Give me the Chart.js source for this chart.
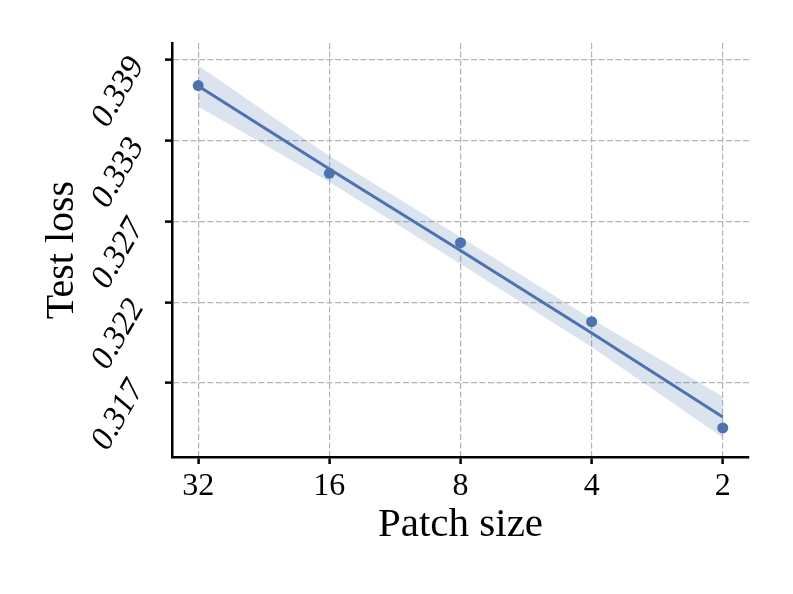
<!DOCTYPE html>
<html>
<head>
<meta charset="utf-8">
<script src="https://cdn.jsdelivr.net/npm/chart.js@4.4.1/dist/chart.umd.min.js"></script>
<style>
  html, body { margin: 0; padding: 0; background: #ffffff; }
  #wrap { width: 793px; height: 594px; }
</style>
</head>
<body>
<div id="wrap"><canvas id="c" width="793" height="594"></canvas></div>
<script>
// ---- data ----
const patchSizes   = [32, 16, 8, 4, 2];
const testLoss     = [0.33706, 0.33108, 0.32636, 0.32098, 0.31374];
const fitLine      = [0.33703, 0.33138, 0.32583, 0.32021, 0.31448];
const bandUpper    = [0.33843, 0.33227, 0.32675, 0.32116, 0.31588];
const bandLower    = [0.33563, 0.33049, 0.32491, 0.31926, 0.31308];
const yTickValues  = [0.3168, 0.3223, 0.3278, 0.3333, 0.3388];
const yTickLabels  = ['0.317', '0.322', '0.327', '0.333', '0.339'];
const xTickLabels  = ['32', '16', '8', '4', '2'];

const xPos = patchSizes.map(p => Math.log2(p));
const pts = arr => arr.map((v, i) => ({ x: xPos[i], y: v }));

const BLUE = '#4c72b0';
const SERIF = "'Liberation Serif', 'Times New Roman', serif";

new Chart(document.getElementById('c'), {
  type: 'scatter',
  data: {
    datasets: [
      { label: 'points', data: pts(testLoss), showLine: false,
        pointRadius: 5.5, pointHoverRadius: 5.5, pointBackgroundColor: BLUE,
        pointBorderWidth: 0, order: 0 },
      { label: 'fit', data: pts(fitLine), showLine: true, borderColor: BLUE,
        borderWidth: 3, pointRadius: 0, fill: false, order: 1 },
      { label: 'upper', data: pts(bandUpper), showLine: true, borderWidth: 0,
        borderColor: 'rgba(0,0,0,0)', pointRadius: 0,
        backgroundColor: 'rgba(76,114,176,0.2)', fill: '+1', order: 2 },
      { label: 'lower', data: pts(bandLower), showLine: true, borderWidth: 0,
        borderColor: 'rgba(0,0,0,0)', pointRadius: 0, fill: false, order: 3 }
    ]
  },
  options: {
    responsive: false,
    animation: false,
    events: [],
    layout: { padding: { left: 0, top: 43, right: 44, bottom: 0 } },
    plugins: { legend: { display: false }, tooltip: { enabled: false } },
    scales: {
      x: {
        type: 'linear', min: 0.8, max: 5.2, reverse: true,
        afterFit: s => { s.height = 137; s.paddingLeft = 0; s.paddingRight = 0; },
        afterBuildTicks: s => { s.ticks = xPos.map(v => ({ value: v })); },
        ticks: {
          callback: (v, i) => xTickLabels[i],
          font: { family: SERIF, size: 32 }, color: '#000',
          padding: 3, maxRotation: 0, minRotation: 0, autoSkip: false
        },
        grid: { color: '#b4b4b4', lineWidth: 1.2,
                drawTicks: true, tickLength: 7, tickColor: '#000', tickWidth: 2.5,
                tickBorderDash: [] },
        border: { display: true, color: '#000', width: 2.5, dash: [5.9, 2.6] },
        title: { display: true, text: 'Patch size', color: '#000',
                 font: { family: SERIF, size: 41, lineHeight: 1 },
                 padding: { top: 0, bottom: 48 } }
      },
      y: {
        type: 'linear', min: 0.31176, max: 0.33996,
        afterFit: s => { s.width = 172; s.paddingTop = 0; s.paddingBottom = 0; },
        afterBuildTicks: s => { s.ticks = yTickValues.map(v => ({ value: v })); },
        ticks: {
          callback: (v, i) => yTickLabels[i],
          font: { family: SERIF, size: 33, style: 'italic' }, color: '#000',
          padding: 28, minRotation: 60, maxRotation: 60, autoSkip: false
        },
        grid: { color: '#b4b4b4', lineWidth: 1.2,
                drawTicks: true, tickLength: 7, tickColor: '#000', tickWidth: 2.5,
                tickBorderDash: [] },
        border: { display: true, color: '#000', width: 2.5, dash: [5.9, 2.6] },
        title: { display: true, text: 'Test loss', color: '#000',
                 font: { family: SERIF, size: 40, lineHeight: 1 },
                 padding: { top: 42, bottom: 0 } }
      }
    }
  }
});
</script>
</body>
</html>
